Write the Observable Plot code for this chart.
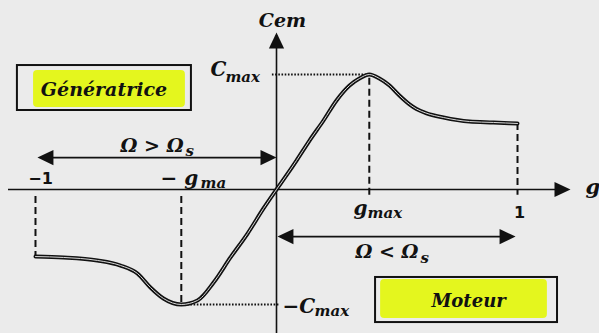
<!DOCTYPE html>
<html>
<head>
<meta charset="utf-8">
<script src="https://cdn.jsdelivr.net/npm/d3@7"></script>
<script src="https://cdn.jsdelivr.net/npm/@observablehq/plot@0.6"></script>
<style>
  html, body { margin: 0; padding: 0; background: #ebebeb; }
  #chart svg { display: block; background: #ebebeb; }
</style>
</head>
<body>
<div id="chart"></div>
<script>
// Torque–slip characteristic Cem(g) of an induction machine (torque in units of Cmax)
const slip = [-1.0, -0.884, -0.743, -0.647, -0.577, -0.523, -0.469, -0.395, -0.328, -0.261,
              -0.191, -0.120, -0.054, 0, 0.041, 0.083, 0.137, 0.195, 0.249, 0.303,
              0.344, 0.385, 0.427, 0.469, 0.510, 0.552, 0.581, 0.620, 0.693, 0.801, 0.900, 1.0];
const torque = [-0.583, -0.591, -0.617, -0.661, -0.730, -0.852, -0.948, -1.0, -0.965, -0.809,
                -0.591, -0.383, -0.165, 0, 0.122, 0.252, 0.426, 0.600, 0.774, 0.904,
                0.965, 1.0, 0.965, 0.904, 0.817, 0.740, 0.700, 0.665, 0.626, 0.591, 0.583, 0.574];

const gMax = 0.385;      // slip at maximum motor torque
const gMaxGen = -0.395;  // slip at maximum generator torque
const cMax = 1;
const slipEnds = [-1, 1];
const slipEndLabels = ["−1", "1"];
const regimes = ["Génératrice", "Moteur"];

const curve = slip.map((g, i) => ({g, c: torque[i]}));
const endTorque = new Map(curve.map(d => [d.g, d.c]));

const ink = "#111";
const serif = "DejaVu Serif";
const sans = "DejaVu Sans, sans-serif";
const highlight = "#e4f61e";

// filled arrowhead with its tip at the anchor point, pointing towards +x
const arrowHead = {
  draw(ctx, size) {
    const r = Math.sqrt(size / Math.PI);
    ctx.moveTo(0, 0);
    ctx.lineTo(-2 * r, -0.95 * r);
    ctx.lineTo(-2 * r, 0.95 * r);
    ctx.closePath();
  }
};
const head = (g, c, rotate) =>
  Plot.dot([{g, c}], {x: "g", y: "c", symbol: arrowHead, r: 8, fill: ink, stroke: "none", rotate});

// italic math text; anchored at its baseline
const math = (t, g, c, size, extra = {}) =>
  Plot.text([{g, c, t}], {
    x: "g", y: "c", text: "t", textAnchor: "start", lineAnchor: "bottom",
    fontFamily: serif, fontWeight: "bold", fontStyle: "italic", fontSize: size, fill: ink, ...extra
  });

const regimeBox = (name, x1, x2, y1, y2, hx1, hx2, hy1, hy2, tg, tc, size) => [
  Plot.rect([{}], {x1: hx1, x2: hx2, y1: hy1, y2: hy2, fill: highlight, rx: 4}),
  Plot.rect([{}], {x1, x2, y1, y2, fill: "none", stroke: ink, strokeWidth: 2}),
  math(name, tg, tc, size, {textAnchor: "middle"})
];

const endLabel = (i, c) =>
  Plot.text([i], {x: j => slipEnds[j], y: () => c, text: j => slipEndLabels[j],
    lineAnchor: "bottom", textAnchor: "middle", dx: i === 0 ? 5 : 2,
    fontFamily: sans, fontWeight: "bold", fontSize: 16, fill: ink});

const dash = {stroke: ink, strokeWidth: 2, strokeDasharray: "7,4"};
const dots = {stroke: ink, strokeWidth: 1.8, strokeDasharray: "1.6,1.6"};

const chart = Plot.plot({
  width: 599,
  height: 333,
  margin: 0,
  style: {background: "#ebebeb", overflow: "hidden"},
  x: {domain: [-1.1452, 1.3402], axis: null},
  y: {domain: [-1.2522, 1.6435], axis: null},
  marks: [
    // regime boxes
    ...regimeBox(regimes[0], -1.075, -0.353, 0.687, 1.078, -1.008, -0.378, 0.713, 1.035, -0.716, 0.809, 19),
    ...regimeBox(regimes[1], 0.411, 1.166, -1.157, -0.765, 0.432, 1.124, -1.122, -0.783, 0.797, -1.026, 18),

    // axes
    Plot.ruleY([0], {x1: -1.112, x2: 1.2, stroke: ink, strokeWidth: 1.5}),
    head(1.22, 0, 0),
    Plot.ruleX([0], {y1: -1.2522, y2: 1.34, stroke: ink, strokeWidth: 1.6}),
    head(0, 1.365, -90),

    // guides to the extrema and slip limits
    Plot.ruleX(slipEnds, {y1: g => g < 0 ? -0.06 : endTorque.get(g), y2: g => g < 0 ? endTorque.get(g) : -0.05, ...dash}),
    Plot.ruleX([gMax], {y1: -0.05, y2: cMax, ...dash}),
    Plot.ruleX([gMaxGen], {y1: -0.06, y2: -cMax, ...dash}),
    Plot.ruleY([cMax], {x1: -0.017, x2: gMax, ...dots}),
    Plot.ruleY([-cMax], {x1: gMaxGen, x2: 0.01, ...dots}),

    // speed ranges
    Plot.ruleY([0.278], {x1: -0.97, x2: -0.02, stroke: ink, strokeWidth: 1.7}),
    head(-0.992, 0.278, 180),
    head(0, 0.278, 0),
    Plot.ruleY([-0.409], {x1: 0.02, x2: 0.97, stroke: ink, strokeWidth: 1.7}),
    head(0.004, -0.409, 180),
    head(0.992, -0.409, 0),

    // torque curve, drawn as a hollow double stroke
    Plot.line(curve, {x: "g", y: "c", curve: "monotone-x", stroke: ink, strokeWidth: 4, strokeLinejoin: "round"}),
    Plot.line(curve, {x: "g", y: "c", curve: "monotone-x", stroke: "#d8d8d8", strokeWidth: 1}),

    // labels
    math("Cem", 0.025, 1.417, 19, {textAnchor: "middle"}),
    math("C", -0.274, 0.983, 20),
    math("max", -0.212, 0.939, 15),
    math("−C", 0.025, -1.07, 20),
    math("max", 0.158, -1.104, 15),
    math("− g", -0.481, 0.043, 20),
    math("ma", -0.315, 0.017, 15),
    math("g", 0.320, -0.226, 20),
    math("max", 0.378, -0.252, 15),
    math("g", 1.282, -0.035, 21),
    math("Ω > Ω", -0.647, 0.322, 19),
    math("s", -0.378, 0.287, 15),
    math("Ω < Ω", 0.328, -0.6, 19),
    math("s", 0.598, -0.635, 15),
    endLabel(0, 0.052),
    endLabel(1, -0.252)
  ]
});

document.getElementById("chart").appendChild(chart);
</script>
</body>
</html>
